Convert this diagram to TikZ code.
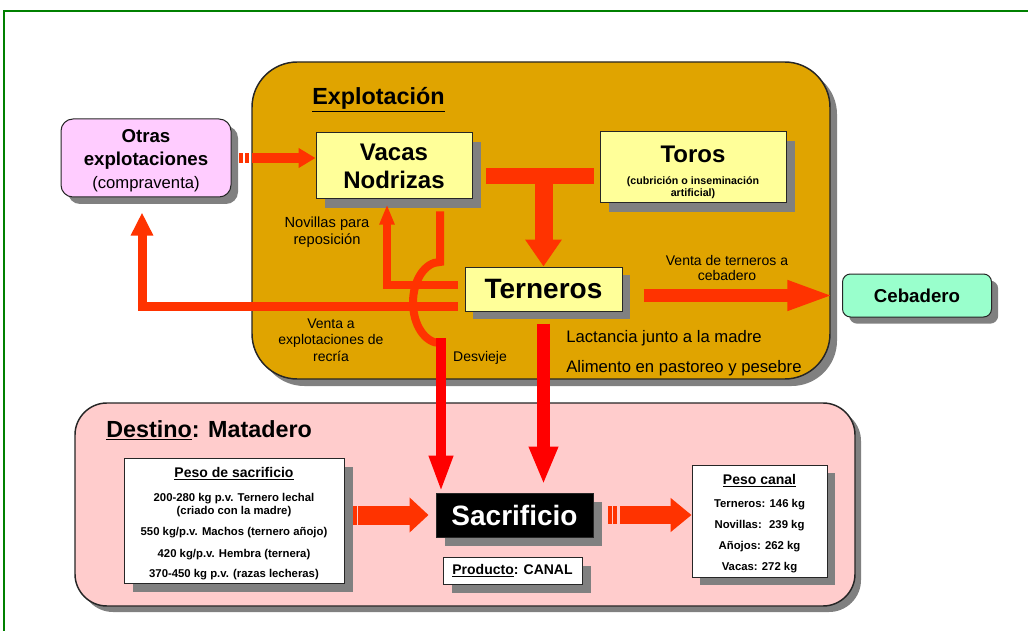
\documentclass[tikz,border=0pt]{standalone}
\usepackage{fontspec}
\setmainfont{Liberation Sans}
\usetikzlibrary{arrows.meta,shadows}
\definecolor{oro}{RGB}{224,164,0}
\definecolor{amarillo}{RGB}{255,255,153}
\definecolor{lila}{RGB}{255,204,255}
\definecolor{menta}{RGB}{153,255,204}
\definecolor{rosado}{RGB}{255,204,204}
\definecolor{naranja}{RGB}{255,51,0}
\definecolor{rojo}{RGB}{255,0,0}
\definecolor{verde}{RGB}{0,128,0}
\newcommand{\tam}[2]{\fontsize{#1}{#2}\selectfont}
\tikzset{
  sombra/.style={drop shadow={shadow xshift=#1, shadow yshift=-#1, fill=black!50, opacity=1}},
  caja/.style={draw=black!85, line width=0.75pt, fill=amarillo, inner sep=0pt, align=center, sombra=#1},
  caja/.default=6pt,
  etiq/.style={font=\tam{10.5}{12.4}, align=center},
  flecha/.style={draw=naranja, line width=#1},
}
\begin{document}
\begin{tikzpicture}[x=0.75pt,y=-0.75pt]
  \useasboundingbox (0,0) rectangle (1028,631);
  \fill[white] (0,0) rectangle (1028,631);
  \draw[verde, line width=1.5pt] (4,631) -- (4,11) -- (1028,11);
  % recuadros grandes
  \node[caja=5.25pt, fill=oro, rounded corners=34pt, line width=1.1pt,
        minimum width=433.5pt, minimum height=237.75pt] (explot) at (541,220.5) {};
  \node[caja=4.5pt, fill=rosado, rounded corners=24pt, line width=1.1pt,
        minimum width=585pt, minimum height=152.25pt] (destino) at (465,504.5) {};
  \node[anchor=base west, inner sep=0pt, font=\tam{17.5}{21}\bfseries] (titexp) at (312,105) {\underline{Explotación}};
  \node[anchor=base west, inner sep=0pt, font=\tam{17.5}{21}\bfseries] (titdes) at (106,437) {\underline{Destino}: Matadero};
  % cajas
  \node[caja=5.25pt, fill=lila, rounded corners=9pt, font=\tam{14}{17.5}\bfseries,
        minimum width=127.5pt, minimum height=58.5pt] (otras) at (146,158)
        {\rule{0pt}{14pt}Otras\\explotaciones\\{\tam{12.5}{14}\mdseries(compraventa)}};
  \node[caja=6.5pt, font=\tam{18}{21}\bfseries,
        minimum width=117pt, minimum height=49.5pt] (vacas) at (394,166) {Vacas\\Nodrizas};
  \node[caja=6.5pt, font=\tam{8}{9}\bfseries,
        minimum width=139.5pt, minimum height=53.25pt] (toros) at (693,167.5)
        {{\tam{18}{21}\rule{0pt}{19pt}Toros}\\[7.5pt](cubrición o inseminación\\artificial)};
  \node[caja=6pt, font=\tam{21}{24}\bfseries,
        minimum width=117.75pt, minimum height=33pt] (terneros) at (543.5,289) {Terneros};
  \node[caja=5pt, fill=menta, rounded corners=6pt, font=\tam{14}{17}\bfseries,
        minimum width=111.75pt, minimum height=32.25pt] (cebadero) at (917,295.5) {Cebadero};
  \node[caja=6.5pt, fill=white, font=\tam{8.5}{9.75}\bfseries,
        minimum width=165pt, minimum height=93.75pt] (pesosac) at (234,520.5)
        {{\tam{10.5}{12}\rule{0pt}{12.5pt}\underline{Peso de sacrificio}}\\[8.25pt]
         200-280 kg p.v. Ternero lechal\\(criado con la madre)\\[6.5pt]
         550 kg/p.v. Machos (ternero añojo)\\[6.5pt]
         420 kg/p.v. Hembra (ternera)\\[5.5pt]
         370-450 kg p.v. (razas lecheras)};
  \node[caja=6.5pt, fill=black, text=white, font=\tam{21}{24}\bfseries,
        minimum width=117.75pt, minimum height=33pt] (sacrificio) at (514.5,515) {Sacrificio};
  \node[caja=6.5pt, fill=white, font=\tam{10.5}{12}\bfseries,
        minimum width=104.25pt, minimum height=20.25pt] (producto) at (512.5,570.5)
        {\underline{Producto}: CANAL};
  \node[caja=6pt, fill=white, font=\tam{8.5}{9.75}\bfseries,
        minimum width=101.25pt, minimum height=84pt] (pesocanal) at (759.5,521)
        {{\tam{10.5}{12}\rule{0pt}{12pt}\underline{Peso canal}}\\[7.5pt]
         Terneros: 146 kg\\[6.25pt]
         Novillas: \ 239 kg\\[6pt]
         Añojos: 262 kg\\[6pt]
         Vacas: 272 kg};
  % textos
  \node[etiq, font=\tam{11}{12.75}] (novillas) at (327,232.5) {Novillas para\\reposición};
  \node[etiq] (recria) at (331,340) {Venta a\\explotaciones de\\recría};
  \node[etiq] (desvieje) at (480,358) {Desvieje};
  \node[etiq, font=\tam{10.5}{11.25}] (venta) at (727,267.5) {Venta de terneros a\\cebadero};
  \node[anchor=west, inner sep=0pt, font=\tam{12.5}{14}] (lactancia) at (566,338) {Lactancia junto a la madre};
  \node[anchor=west, inner sep=0pt, font=\tam{12.5}{14}] (alimento) at (566,368) {Alimento en pastoreo y pesebre};
  % flechas
  \foreach \d in {5.25,9.75}
    \fill[naranja] ([xshift=\d pt,yshift=-3.75pt]otras.east) rectangle ++(3pt,7.5pt);
  \draw[flecha=7.5pt, -{Triangle[length=12.75pt,width=14.25pt]}]
    ([xshift=15pt]otras.east) -- (otras.east -| vacas.west);
  \coordinate (tI) at (486,176);
  \coordinate (tD) at (594,176);
  \draw[flecha=12pt] (tI) -- (tD);
  \draw[flecha=13.5pt, -{Triangle[length=20.25pt,width=26.25pt]}]
    (terneros.north |- tD) -- (terneros.north);
  \draw[flecha=6pt, -{Triangle[length=15pt,width=10.5pt]}]
    ([xshift=-5.25pt]terneros.west |- 0,285) -| ([xshift=-5.25pt,yshift=-3.75pt]vacas.south);
  \draw[flecha=6.75pt, -{Triangle[length=17.25pt,width=15.75pt]}]
    ([xshift=-5.25pt]terneros.west |- 0,306) -| ([xshift=-3pt,yshift=-11.25pt]otras.south);
  % desvieje, salta por encima
  \draw[flecha=6pt] ([yshift=-9pt]vacas.south -| 440,0) -- (440,262)
    arc[start angle=90, end angle=270, x radius=20.25pt, y radius=30.4pt];
  \coordinate (desv) at (441,338);
  \draw[rojo, line width=7.5pt, -{Triangle[length=27.75pt,width=16.5pt]}]
    (desv) -- (desv |- sacrificio.north);
  \draw[rojo, line width=9.75pt, -{Triangle[length=28.5pt,width=20.25pt]}]
    ([yshift=-9pt]terneros.south) -- ([yshift=6pt]terneros.south |- sacrificio.north);
  \draw[flecha=9.75pt, -{Triangle[length=35.25pt,width=20.25pt]}]
    ([xshift=15.75pt]terneros.east |- cebadero.west) -- ([xshift=-5.7pt]cebadero.west);
  % matadero
  \foreach \d in {6.25,10.25}
    \fill[naranja] ([xshift=\d pt,yshift=-7.125pt]pesosac.east |- sacrificio.west) rectangle ++(3.25pt,14.25pt);
  \draw[flecha=14.25pt, -{Triangle[length=14.25pt,width=25.5pt]}]
    ([xshift=14pt]pesosac.east |- sacrificio.west) -- ([xshift=-5.25pt]sacrificio.west);
  \foreach \d in {10.7,14.8}
    \fill[naranja] ([xshift=\d pt,yshift=-6.75pt]sacrificio.east) rectangle ++(2.8pt,13.5pt);
  \draw[flecha=13.5pt, -{Triangle[length=15.75pt,width=24.75pt]}]
    ([xshift=19.7pt]sacrificio.east) -- (sacrificio.east -| pesocanal.west);
\end{tikzpicture}
\end{document}
